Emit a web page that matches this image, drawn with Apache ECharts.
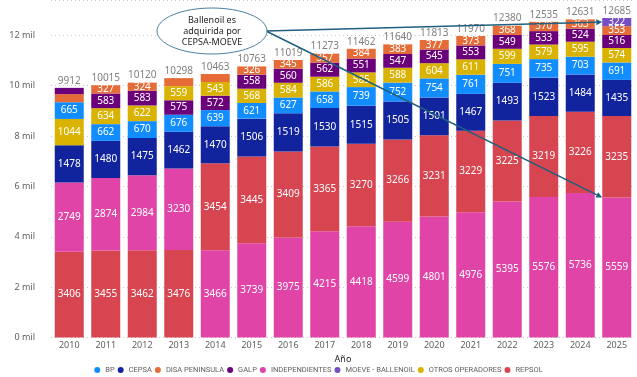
<!DOCTYPE html>
<html><head><meta charset="utf-8">
<script src="https://cdn.jsdelivr.net/npm/echarts@6/dist/echarts.min.js"></script>
<style>html,body{margin:0;padding:0;background:#fff}#c{width:637px;height:377px}</style>
</head><body><div id="c"></div>
<script>
const years = ['2010','2011','2012','2013','2014','2015','2016','2017','2018','2019','2020','2021','2022','2023','2024','2025'];
const companies = ['BP','CEPSA','DISA PENINSULA','GALP','INDEPENDIENTES','MOEVE - BALLENOIL','OTROS OPERADORES','REPSOL'];
const colors = ['#118DFF','#12239E','#E66C37','#6B007B','#E044A7','#744EC2','#D9B300','#D64550'];
const bp = [665,662,670,676,639,621,627,658,739,752,754,761,751,735,703,691];
const cepsa = [1478,1480,1475,1462,1470,1506,1519,1530,1515,1505,1501,1467,1493,1523,1484,1435];
const disa = [320,327,324,320,319,326,345,357,384,383,377,373,368,370,363,353];
const galp = [250,583,583,575,572,558,560,562,551,547,545,553,549,533,524,516];
const independientes = [2749,2874,2984,3230,3466,3739,3975,4215,4418,4599,4801,4976,5395,5576,5736,5559];
const moeve = [0,0,0,0,0,0,0,0,0,0,0,0,0,0,0,322];
const otros = [1044,634,622,559,543,568,584,586,585,588,604,611,599,579,595,574];
const repsol = [3406,3455,3462,3476,3454,3445,3409,3365,3270,3266,3231,3229,3225,3219,3226,3235];
const totals = [9912,10015,10120,10298,10463,10763,11019,11273,11462,11640,11813,11970,12380,12535,12631,12685];
const yTicks = [0,2000,4000,6000,8000,10000,12000];
const hiddenLabels = [[0,'DISA PENINSULA'],[0,'GALP'],[3,'DISA PENINSULA'],[4,'DISA PENINSULA']];
const annotationText = 'Ballenoil es\nadquirida por\nCEPSA-MOEVE';

const values = [bp,cepsa,disa,galp,independientes,moeve,otros,repsol];
const FONT = 'Noto Sans';
const BARW = 29;

// per-year ordering: largest at the bottom
const rankSeries = [];
for (let r = 0; r < companies.length; r++) rankSeries.push(years.map(() => '-'));
years.forEach((y, i) => {
  const items = companies.map((c, k) => ({c, k, v: values[k][i]})).filter(d => d.v > 0);
  items.sort((a, b) => b.v - a.v);
  items.forEach((d, r) => {
    const hidden = hiddenLabels.some(h => h[0] === i && h[1] === d.c);
    rankSeries[r][i] = {value: d.v, name: d.c, itemStyle: {color: colors[d.k]}, label: {show: !hidden}};
  });
});

const series = [];
companies.forEach((c, k) => {
  series.push({name: c, type: 'line', data: [], color: colors[k], itemStyle: {color: colors[k]}});
});
rankSeries.forEach((data, r) => {
  series.push({
    type: 'bar', stack: 'total', data, barWidth: BARW,
    label: {show: true, position: 'inside', color: '#fff', fontSize: 10, fontFamily: FONT},
    emphasis: {disabled: true}
  });
});
series.push({
  type: 'scatter', data: totals, symbol: 'circle', symbolSize: 0.1,
  itemStyle: {color: 'rgba(0,0,0,0)'},
  label: {show: true, position: 'top', distance: 2, color: '#605E5C', fontSize: 10, fontFamily: FONT},
  z: 5
});

const chart = echarts.init(document.getElementById('c'), null, {renderer: 'canvas'});
chart.setOption({
  animation: false,
  textStyle: {fontFamily: FONT},
  grid: {left: 51, right: 2, top: 0, bottom: 39.5, containLabel: false},
  legend: {
    data: companies, bottom: 3, left: 'center', icon: 'circle', itemWidth: 6, itemHeight: 6, itemGap: 3,
    padding: 0, textStyle: {fontSize: 7.5, color: '#605E5C', fontFamily: 'Roboto'}, selectedMode: false
  },
  xAxis: {
    type: 'category', data: years,
    axisLine: {show: false}, axisTick: {show: false},
    axisLabel: {color: '#605E5C', fontSize: 9, margin: 3},
    name: 'Año', nameLocation: 'middle', nameGap: 17,
    nameTextStyle: {fontSize: 9, color: '#252423'}
  },
  yAxis: {
    type: 'value', min: 0, max: 13400, interval: 2000,
    axisLine: {show: false}, axisTick: {show: false},
    axisLabel: {color: '#605E5C', fontSize: 9, margin: 16,
      formatter: v => yTicks.includes(v) ? (v / 1000) + ' mil' : ''},
    splitLine: {lineStyle: {type: [1, 3], color: '#C8C6C4', width: 1}}
  },
  series
});

// annotation
const last = years.length - 1;
const xEdge = chart.convertToPixel({xAxisIndex: 0}, years[last]) - BARW / 2;
const yTop = chart.convertToPixel({yAxisIndex: 0}, totals[last] - moeve[last] / 2);
const yMid = chart.convertToPixel({yAxisIndex: 0}, independientes[last]);
const start = [266, 31];
function arrow(x1, y1, x2, y2) {
  const a = Math.atan2(y2 - y1, x2 - x1), L = 6, W = 3;
  const bx = x2 - L * Math.cos(a), by = y2 - L * Math.sin(a);
  const px = -Math.sin(a) * W, py = Math.cos(a) * W;
  return [
    {type: 'line', shape: {x1, y1, x2: bx, y2: by}, style: {stroke: '#1F5F7F', lineWidth: 1.5}, z: 100},
    {type: 'polygon', shape: {points: [[x2, y2], [bx + px, by + py], [bx - px, by - py]]}, style: {fill: '#1F5F7F'}, z: 100}
  ];
}
chart.setOption({
  graphic: [
    ...arrow(start[0], start[1], xEdge, yTop),
    ...arrow(start[0], start[1], xEdge, yMid),
    {type: 'ellipse', shape: {cx: 212, cy: 31, rx: 55, ry: 23}, style: {fill: '#fff', stroke: '#4A7EA0', lineWidth: 1}, z: 101},
    {type: 'text', x: 212, y: 31, style: {text: annotationText, fontSize: 9, lineHeight: 11, fill: '#252423',
      textAlign: 'center', textVerticalAlign: 'middle', fontFamily: FONT}, z: 102}
  ]
});
</script></body></html>
